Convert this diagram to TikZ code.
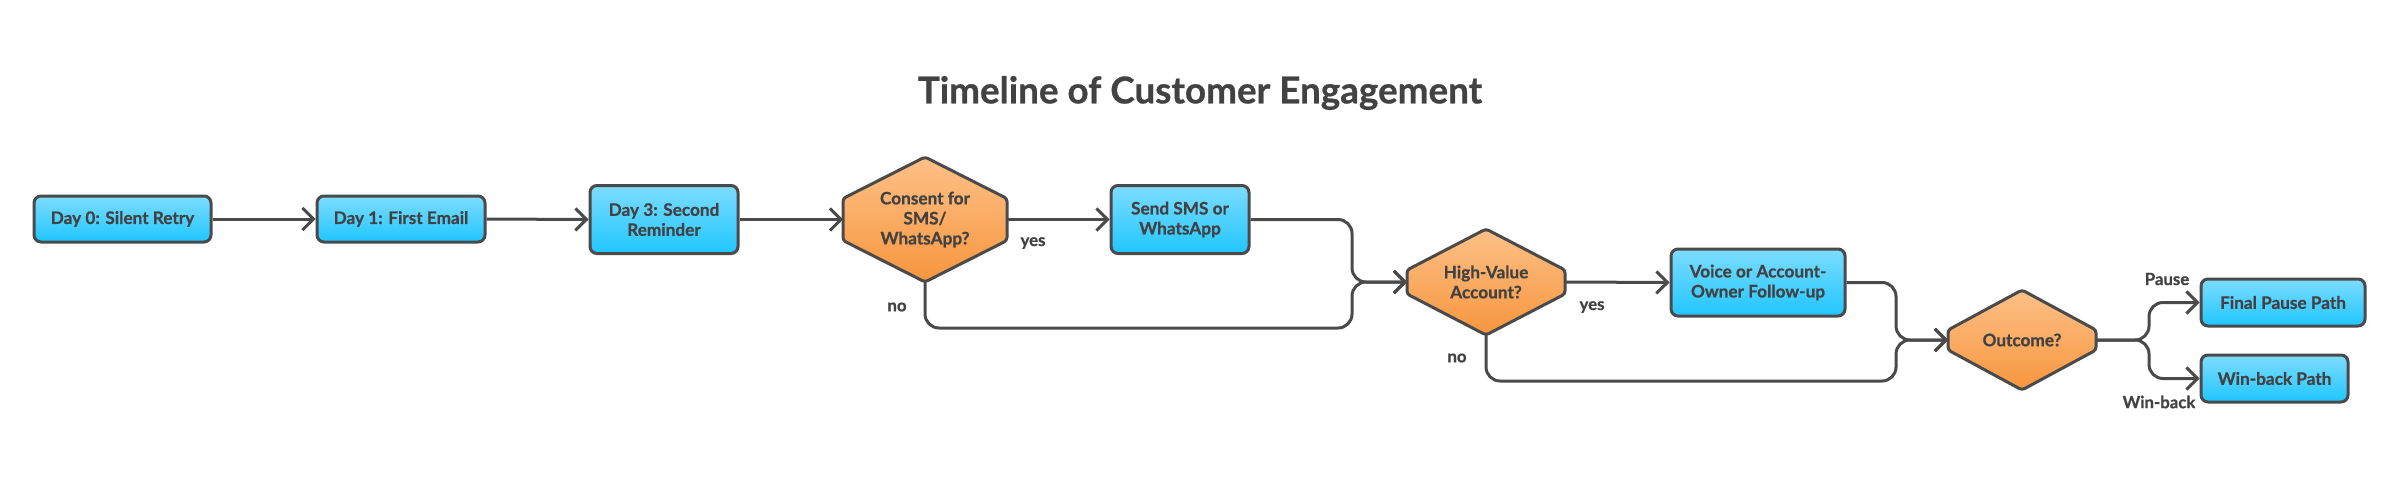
\documentclass[tikz,border=0pt]{standalone}
\usepackage{fontspec}
\setmainfont{Lato}[BoldFeatures={FakeBold=0.7}]
\usetikzlibrary{arrows.meta}
\definecolor{ink}{HTML}{424242}
\definecolor{edge}{HTML}{4A4A4A}
\definecolor{bluetop}{HTML}{7DDCFF}
\definecolor{bluebot}{HTML}{20C6FF}
\definecolor{orgtop}{HTML}{FDC087}
\definecolor{orgbot}{HTML}{F7963E}
\newcommand{\hexnode}[7]{%
  \path[hexshape] (#2-#4,#3-#6) -- (#2,#3-#5) -- (#2+#4,#3-#6) -- (#2+#4,#3+#6) -- (#2,#3+#5) -- (#2-#4,#3+#6) -- cycle;
  \node[hextext] (#1) at (#2,#3) {#7};
  \coordinate (#1-w) at (#2-#4,#3);
  \coordinate (#1-e) at (#2+#4,#3);
  \coordinate (#1-s) at (#2,#3+#5);
}
\begin{document}
\begin{tikzpicture}[x=0.5pt,y=-0.5pt,
  box/.style={draw=edge, line width=1.5pt, rounded corners=3.5pt, top color=bluetop, bottom color=bluebot,
    text=ink, font=\bfseries\fontsize{8.6}{10}\selectfont, align=center, inner sep=0pt},
  hexshape/.style={draw=edge, line width=1.5pt, rounded corners=1.5pt, line join=round, top color=orgtop, bottom color=orgbot},
  hextext/.style={text=ink, font=\bfseries\fontsize{8.6}{10}\selectfont, align=center, inner sep=0pt},
  conn/.style={draw=edge, line width=1.5pt, rounded corners=7pt, -{Straight Barb[length=5.5pt,width=11pt]}},
  lab/.style={text=ink, font=\bfseries\fontsize{8.4}{9}\selectfont, inner sep=0pt},
  ttl/.style={text=ink, font=\bfseries\fontsize{18.4}{21}\selectfont, inner sep=0pt}]
\useasboundingbox (0,0) rectangle (2401,482);

\node[ttl] (title) at (1200,93) {Timeline of Customer Engagement};

\node[box, minimum width=88.5pt, minimum height=23pt] (d0) at (122.5,219) {Day 0: Silent Retry};
\node[box, minimum width=84pt, minimum height=23pt] (d1) at (401,219) {Day 1: First Email};
\node[box, minimum width=74pt, minimum height=34pt] (d3) at (664,219.5) {Day 3: Second\\Reminder};
\hexnode{cons}{925}{219.5}{82}{62.5}{21}{Consent for\\SMS/\\WhatsApp?}
\node[box, minimum width=69pt, minimum height=34pt] (sms) at (1180,219.5) {Send SMS or\\WhatsApp};
\hexnode{hv}{1486}{282}{79}{53}{12}{High-Value\\Account?}
\node[box, minimum width=87pt, minimum height=33.5pt] (voice) at (1758,282.5) {Voice or Account-\\Owner Follow-up};
\hexnode{out}{2022}{340}{74}{50}{10}{Outcome?}
\node[box, minimum width=82pt, minimum height=23.5pt] (pause) at (2283,302.5) {Final Pause Path};
\node[box, minimum width=73.5pt, minimum height=23.5pt] (win) at (2274.5,378.5) {Win-back Path};

\coordinate (m1) at (1352,219.5);
\coordinate (m1b) at (1352,328);
\coordinate (m1c) at (925,328);
\coordinate (m2) at (1896,282.5);
\coordinate (m2b) at (1896,381);
\coordinate (m2c) at (1486,381);
\coordinate (sp) at (2149,340);

\draw[conn] (d0.east) -- (d1.west);
\draw[conn] (d1.east) -- (d3.west);
\draw[conn] (d3.east) -- (cons-w);
\draw[conn] (cons-e) -- (sms.west);
\draw[conn] (sms.east) -- (m1) -- (m1 |- hv-w) -- (hv-w);
\draw[conn] (cons-s) -- (m1c) -- (m1b) -- (m1b |- hv-w) -- (hv-w);
\draw[conn] (hv-e) -- (voice.west);
\draw[conn] (voice.east) -- (m2) -- (m2 |- out-w) -- (out-w);
\draw[conn] (hv-s) -- (m2c) -- (m2b) -- (m2b |- out-w) -- (out-w);
\draw[conn] (out-e) -- (sp) -- (sp |- pause.west) -- (pause.west);
\draw[conn] (out-e) -- (sp) -- (sp |- win.west) -- (win.west);

\node[lab] (l1) at (1033,243) {yes};
\node[lab] (l2) at (897,307) {no};
\node[lab] (l3) at (1592,307) {yes};
\node[lab] (l4) at (1457,358) {no};
\node[lab] (l5) at (2167,279) {Pause};
\node[lab] (l6) at (2159,402) {Win-back};
\end{tikzpicture}
\end{document}
